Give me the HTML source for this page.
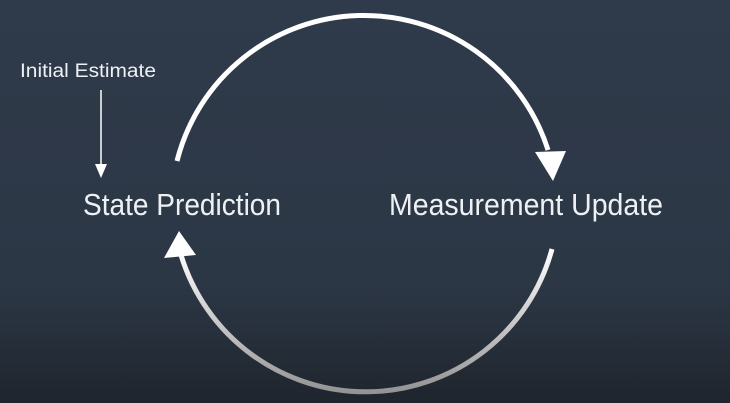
<!DOCTYPE html>
<html><head><meta charset="utf-8"><style>
html,body{margin:0;padding:0;width:730px;height:403px;overflow:hidden;background:#2e3a4a}
svg{display:block}
text{font-family:"Liberation Sans Narrow","Liberation Sans",sans-serif;fill:#eef1f4}
</style></head><body>
<svg width="730" height="403" viewBox="0 0 730 403">
<defs>
<linearGradient id="bg" x1="0" y1="0" x2="0" y2="1">
<stop offset="0" stop-color="#2f3a4a"/><stop offset="0.7" stop-color="#2c3746"/><stop offset="1" stop-color="#1f252d"/>
</linearGradient>
<linearGradient id="bot" x1="0" y1="249" x2="0" y2="400" gradientUnits="userSpaceOnUse">
<stop offset="0" stop-color="#ffffff"/><stop offset="1" stop-color="#8e8e8e"/>
</linearGradient>
</defs>
<rect width="730" height="403" fill="url(#bg)"/>
<text x="20" y="77" font-size="19" textLength="136" lengthAdjust="spacingAndGlyphs">Initial Estimate</text>
<line x1="101" y1="90" x2="101" y2="166" stroke="#fff" stroke-width="1.5"/>
<polygon points="95,164 107,164 101,178" fill="#fff"/>
<text x="83" y="215" font-size="31" textLength="198" lengthAdjust="spacingAndGlyphs">State Prediction</text>
<text x="389" y="215" font-size="31" textLength="274" lengthAdjust="spacingAndGlyphs">Measurement Update</text>
<path d="M177,161 A193,193 0 0 1 548,150" fill="none" stroke="#fff" stroke-width="5"/>
<polygon points="535,152 566,151 553,181" fill="#fff"/>
<path d="M552,249 A193,193 0 0 1 181,255" fill="none" stroke="url(#bot)" stroke-width="5"/>
<polygon points="164,258 196,255 179,231" fill="#fff"/>
</svg>
</body></html>
